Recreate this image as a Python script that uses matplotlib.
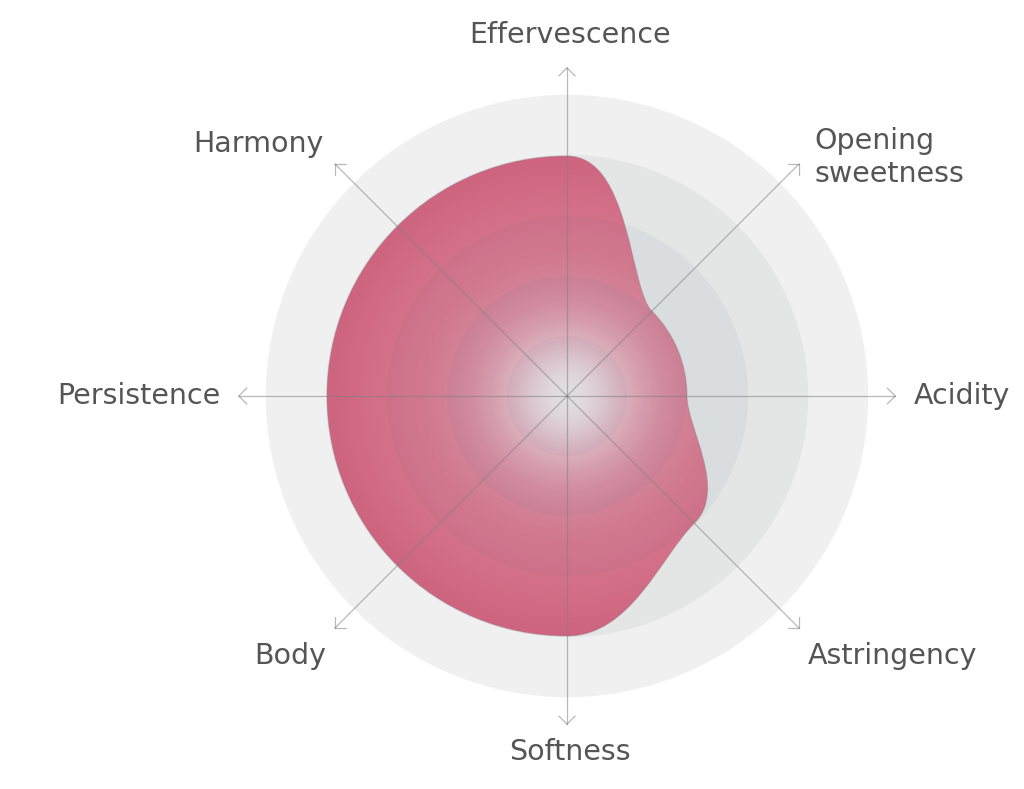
import numpy as np
import matplotlib.pyplot as plt
from matplotlib.patches import Circle, PathPatch
from matplotlib.path import Path

# wine tasting profile, scale 0..5
labels = ["Effervescence", "Opening\nsweetness", "Acidity", "Astringency",
          "Softness", "Body", "Persistence", "Harmony"]
values = [4, 2, 2, 3, 4, 4, 4, 4]
levels = [1, 2, 3, 4, 5]
band_colors = ["#d3d6da", "#d8dbdf", "#dadde0", "#e4e5e5", "#f0f0f0"]

W, H = 1024, 789
cx, cy = 567, 396          # centre in pixels (from top)
unit = 60                  # pixels per scale step

fig = plt.figure(figsize=(W / 100, H / 100), dpi=100)
ax = fig.add_axes([0, 0, 1, 1])
ax.set_xlim(-cx / unit, (W - cx) / unit)
ax.set_ylim(-(H - cy) / unit, cy / unit)
ax.axis("off")

n = len(labels)
step = 2 * np.pi / n
ang = np.pi / 2 - np.arange(n) * step   # start at top, clockwise

# background bands, largest first
for r, c in zip(levels[::-1], band_colors[::-1]):
    ax.add_patch(Circle((0, 0), r + 0.02, color=c, lw=0, zorder=1))

# smooth closed outline: each node's handles follow its own circle
v = np.array(values, dtype=float)
pts = np.column_stack([v * np.cos(ang), v * np.sin(ang)])
tang = np.column_stack([np.sin(ang), -np.cos(ang)])   # clockwise tangent
hl = v * 4 / 3 * np.tan(step / 4)
verts = [pts[0]]
codes = [Path.MOVETO]
for i in range(n):
    j = (i + 1) % n
    verts += [pts[i] + hl[i] * tang[i], pts[j] - hl[j] * tang[j], pts[j]]
    codes += [Path.CURVE4] * 3
shape = PathPatch(Path(verts, codes), facecolor="none", edgecolor="#8a7a80",
                  lw=0.8, alpha=0.35, zorder=2.9)
ax.add_patch(shape)

# pink fill, a touch lighter toward the middle
g = np.linspace(-4.3, 4.3, 900)
gx, gy = np.meshgrid(g, g)
rr = np.hypot(gx, gy)
edge = np.array([206, 100, 127]) / 255
inner = np.array([222, 136, 156]) / 255
f = np.clip((4 - rr) / 2.6, 0, 1)[..., None]
fill = np.ones((900, 900, 4))
fill[..., :3] = edge + (inner - edge) * f
im = ax.imshow(fill, extent=[-4.3, 4.3, -4.3, 4.3], origin="lower", zorder=2,
               interpolation="bilinear")
im.set_clip_path(shape)

# white glow in the middle
glow = np.zeros((900, 900, 4))
glow[..., :3] = 1.0
glow[..., 3] = 0.92 * np.exp(-(rr / 1.1) ** 2)
gl = ax.imshow(glow, extent=[-4.3, 4.3, -4.3, 4.3], origin="lower", zorder=2.2,
               interpolation="bilinear")
gl.set_clip_path(shape)

# faint rings showing through the fill
for r in levels[:3]:
    c = Circle((0, 0), r, color="#50647a", alpha=0.05, lw=0, zorder=2.5)
    ax.add_patch(c)
    c.set_clip_path(shape)

# axes with open arrow heads
L = 5.47
head = 0.19
for a in ang:
    ex, ey = L * np.cos(a), L * np.sin(a)
    ax.plot([0, ex], [0, ey], color="#808080", alpha=0.55, lw=0.9, zorder=4)
    for s in (-1, 1):
        b = a + np.pi + s * np.pi / 4
        ax.plot([ex, ex + head * np.cos(b)], [ey, ey + head * np.sin(b)],
                color="#808080", alpha=0.55, lw=0.9, zorder=4,
                solid_capstyle="round")

# labels
for a, lab in zip(ang, labels):
    c, s = np.cos(a), np.sin(a)
    if abs(c) < 0.1:
        ha, x = "center", 0.05
        y = 6.02 if s > 0 else -5.93
    elif abs(s) < 0.1:
        ha, x, y = ("left" if c > 0 else "right"), 5.78 * np.sign(c), 0
    else:
        ha = "left" if c > 0 else "right"
        if s < 0:
            x, y = 4.02 * np.sign(c), -4.33
        else:
            x, y = (4.12, 3.97) if c > 0 else (-4.05, 4.2)
    ax.text(x, y, lab, ha=ha, va="center", fontsize=20.5, color="#555555",
            family="DejaVu Sans", linespacing=1.22, zorder=5)

fig.savefig("out.png", dpi=100)
